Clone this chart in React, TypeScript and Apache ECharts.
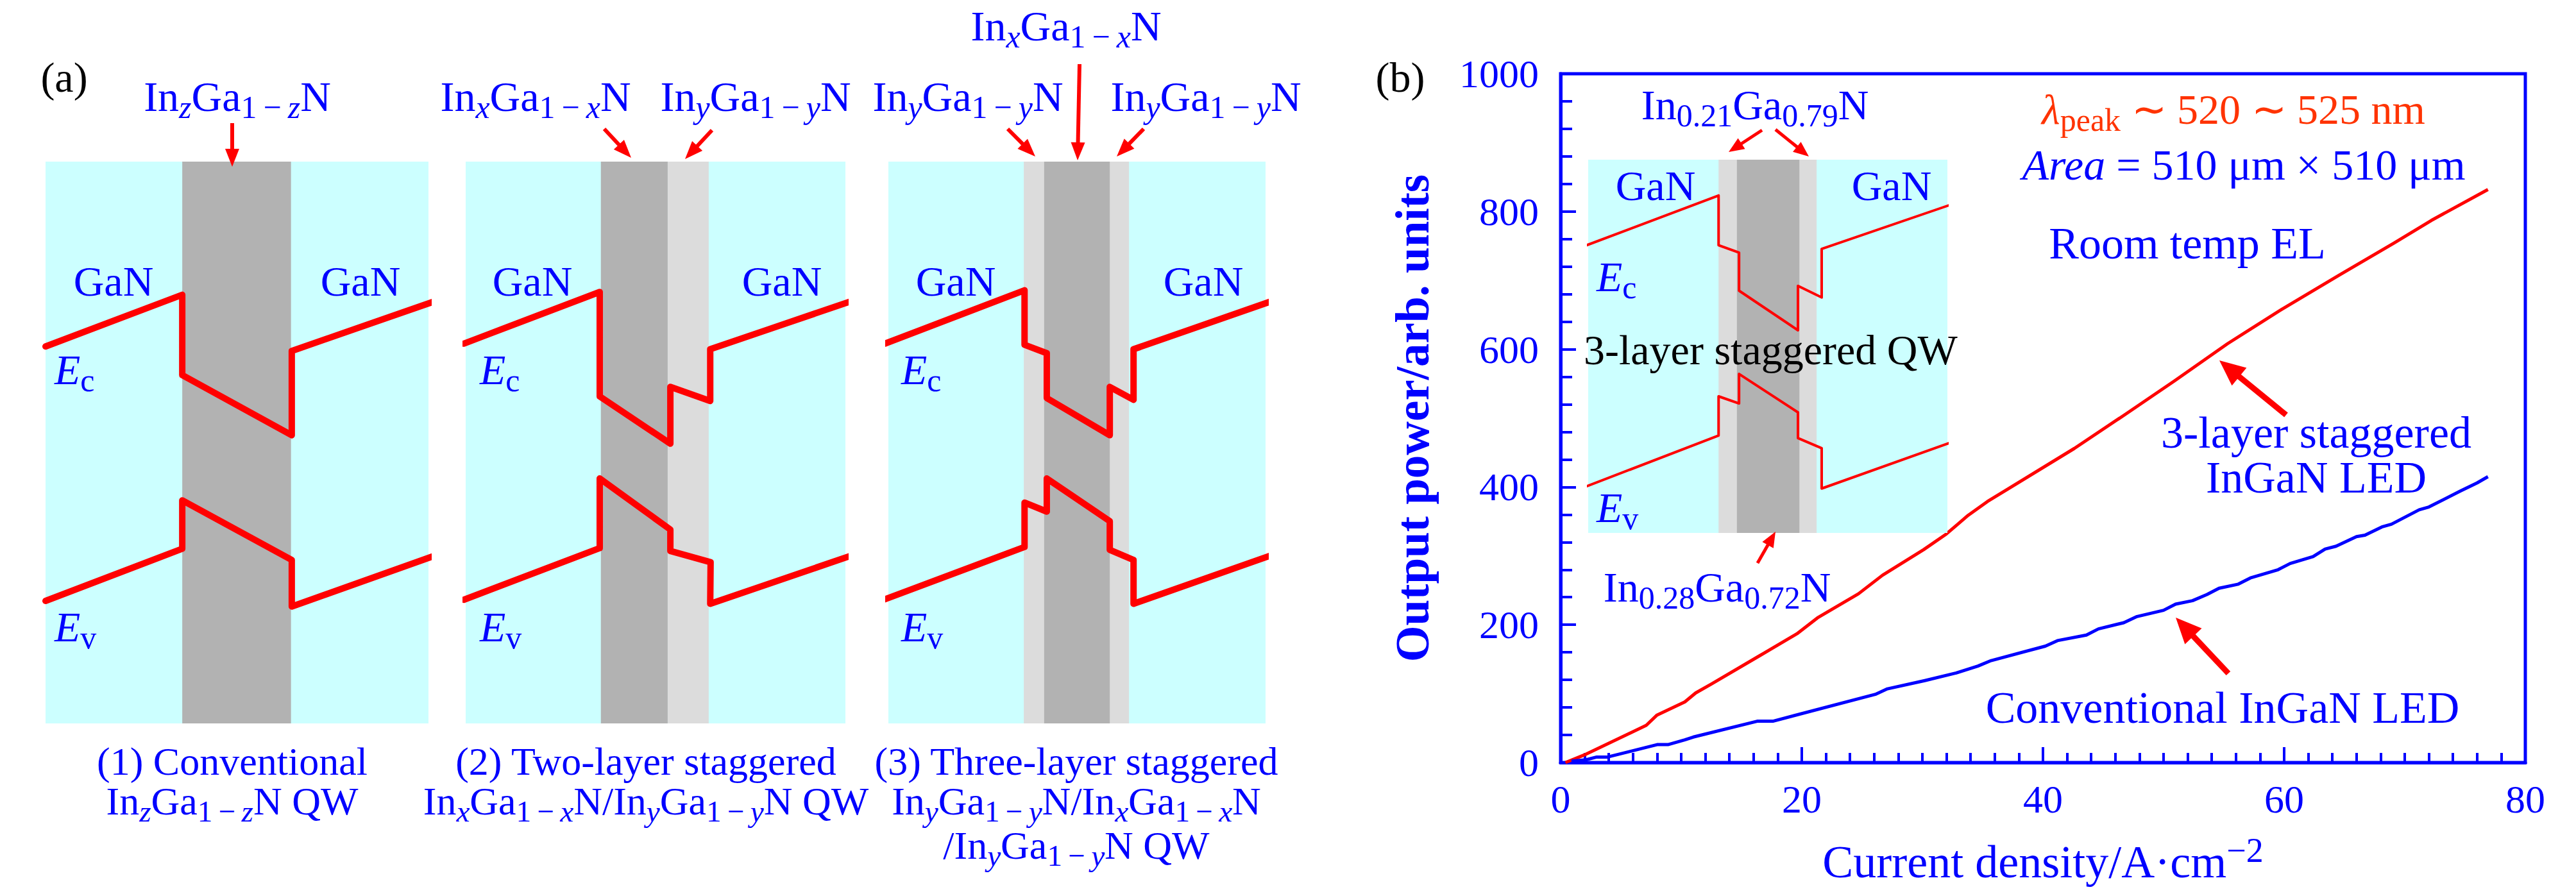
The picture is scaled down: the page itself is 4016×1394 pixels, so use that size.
import React, { useEffect, useRef } from "react";
import * as echarts from "echarts";

const BLUE = "#0000FF";
const RED = "#FF0000";
const ORANGE = "#FF3300";
const BLACK = "#000000";
const LAYER_COLORS = ["#CCFFFF", "#DCDCDC", "#B2B2B2"];
const FONT = "'Liberation Serif', 'Times New Roman', serif";
const F = 66;

// ---- Panel (b): output power vs current density ----
const staggeredJ = [0.4, 2.1, 7.1, 8.0, 10.3, 11.2, 12.5, 16.5, 19.6, 21.3, 24.7, 26.7, 30.1, 32.0, 33.8, 35.4, 42.6, 46.7, 50.9, 55.3, 59.8, 64.6, 69.1, 72.2, 76.9];
const staggeredP = [0, 12, 54, 69, 88, 101, 114, 155, 187, 210, 245, 272, 309, 332, 359, 379, 456, 504, 554, 608, 658, 708, 754, 787, 832];
const conventionalJ = [0.9, 2.1, 3.0, 3.9, 8.0, 8.9, 10.3, 11.0, 16.3, 17.6, 26.1, 27.1, 30.2, 32.8, 34.6, 35.7, 40.2, 41.2, 43.6, 44.6, 46.7, 47.8, 50.0, 51.0, 52.4, 53.6, 54.6, 56.2, 57.2, 59.5, 60.5, 62.4, 63.4, 64.3, 66.0, 66.7, 68.1, 68.9, 71.2, 72.0, 74.6, 76.0, 76.9];
const conventionalP = [2, 4, 8, 8, 26, 26, 33, 37, 60, 60, 99, 107, 119, 130, 140, 148, 169, 177, 185, 194, 203, 212, 221, 230, 235, 244, 253, 259, 268, 280, 289, 299, 310, 314, 328, 330, 342, 346, 367, 371, 394, 406, 415];

// ---- Band diagrams (schematic, % of panel width / height) ----
// layers: [x0, x1, kind] kind 0 = GaN, 1 = In_y (light), 2 = In_x/In_z (dark)
const convLayers = [[0, 100, 0], [35.7, 64.1, 2]];
const convEc = [[0, 67.1], [35.7, 76.3], [35.7, 62.0], [64.3, 51.3], [64.3, 66.3], [101, 75.0]];
const convEv = [[0, 21.8], [35.7, 31.1], [35.7, 39.7], [64.3, 29.1], [64.3, 20.8], [101, 29.7]];

const twoLayers = [[0, 100, 0], [35.6, 53.2, 2], [53.2, 64.0, 1]];
const twoEc = [[-0.5, 67.6], [35.3, 76.8], [35.3, 58.2], [53.9, 49.8], [53.9, 59.9], [64.4, 57.4], [64.4, 66.6], [101.7, 75.2]];
const twoEv = [[-0.5, 22.0], [35.3, 31.2], [35.3, 43.6], [53.9, 34.5], [53.9, 30.7], [64.5, 28.7], [64.4, 21.3], [101.7, 29.9]];

const threeLayers = [[0, 100, 0], [35.9, 63.8, 1], [41.3, 58.7, 2]];
const threeEc = [[-0.9, 67.6], [36.1, 77.1], [36.1, 67.4], [42.0, 65.9], [42.0, 57.9], [58.7, 51.3], [58.7, 59.9], [65.0, 57.6], [65.0, 66.6], [102.2, 75.3]];
const threeEv = [[-0.9, 22.1], [36.1, 31.4], [36.1, 39.3], [42.0, 37.7], [42.0, 43.6], [58.7, 36.0], [58.7, 30.9], [65.0, 29.1], [65.0, 21.3], [101.4, 29.9]];

const insetLayers = [[0, 100, 0], [36.3, 63.6, 1], [41.4, 58.8, 2]];
const insetEc = [[-0.4, 77.1], [36.3, 90.4], [36.3, 77.1], [42.0, 75.1], [42.0, 64.9], [58.4, 54.3], [58.4, 66.2], [65.0, 63.1], [65.0, 76.1], [102, 88.3]];
const insetEv = [[-0.4, 12.5], [36.3, 26.1], [36.3, 36.6], [42.0, 34.7], [42.0, 42.6], [58.4, 32.3], [58.4, 25.4], [65.0, 22.7], [65.0, 11.9], [100.9, 24.2]];

function rich(color: string, size = F, axis = false, lh?: number) {
  const s = Math.round(size * 0.75);
  const p = Math.round(size * 0.5);
  const c: any = axis ? { color } : { fill: color };
  const base: any = { fontFamily: FONT, ...c };
  if (lh) base.lineHeight = lh;
  return {
    r: { ...base, fontSize: size },
    i: { ...base, fontSize: size, fontStyle: "italic" },
    s: { ...base, fontSize: s, padding: [p, 0, 0, 0] },
    si: { ...base, fontSize: s, fontStyle: "italic", padding: [p, 0, 0, 0] },
    u: { ...base, fontSize: s, padding: [0, 0, p, 0] },
  };
}

function label(text: string, x: number, y: number, color = BLUE, align = "center", size = F, lh?: number) {
  const style: any = { text, fontFamily: FONT, fontSize: size, fill: color, align, verticalAlign: "middle", rich: rich(color, size, false, lh) };
  if (lh) style.lineHeight = lh;
  return { type: "text", x, y, z: 100, silent: true, style };
}

function arrow(x1: number, y1: number, x2: number, y2: number, w: number, hl: number, hw: number) {
  const dx = x2 - x1, dy = y2 - y1;
  const L = Math.hypot(dx, dy);
  const ux = dx / L, uy = dy / L;
  const bx = x2 - ux * hl, by = y2 - uy * hl;
  const px = -uy, py = ux;
  return [
    { type: "line", z: 100, silent: true, shape: { x1, y1, x2: bx + ux * 3, y2: by + uy * 3 }, style: { stroke: RED, lineWidth: w } },
    {
      type: "polygon", z: 100, silent: true,
      shape: { points: [[x2, y2], [bx + (px * hw) / 2, by + (py * hw) / 2], [bx - (px * hw) / 2, by - (py * hw) / 2]] },
      style: { fill: RED },
    },
  ];
}

const M = "\u2009−\u2009";
const inZ = `{r|In}{si|z}{r|Ga}{s|1${M}}{si|z}{r|N}`;
const inX = `{r|In}{si|x}{r|Ga}{s|1${M}}{si|x}{r|N}`;
const inY = `{r|In}{si|y}{r|Ga}{s|1${M}}{si|y}{r|N}`;
const EC = "{i|E}{s|c}";
const EV = "{i|E}{s|v}";

function App() {
  const ref = useRef<HTMLDivElement>(null);
  useEffect(() => {
    document.body.style.margin = "0";
    const chart = echarts.init(ref.current!, null, { renderer: "svg" });

    const diagGrids = [
      { left: 71, top: 252, width: 597, height: 876 },
      { left: 726, top: 252, width: 592, height: 876 },
      { left: 1385, top: 252, width: 588, height: 876 },
      { left: 2476, top: 249, width: 560, height: 582 },
    ];
    const diagrams = [
      { layers: convLayers, ec: convEc, ev: convEv, w: 10, z: 1 },
      { layers: twoLayers, ec: twoEc, ev: twoEv, w: 10, z: 1 },
      { layers: threeLayers, ec: threeEc, ev: threeEv, w: 10, z: 1 },
      { layers: insetLayers, ec: insetEc, ev: insetEv, w: 4, z: 6 },
    ];

    const grid: any[] = [
      { left: 2433, top: 115, width: 1504, height: 1074, show: true, borderColor: BLUE, borderWidth: 5, backgroundColor: "transparent" },
      ...diagGrids,
    ];

    const xAxis: any[] = [
      {
        gridIndex: 0, type: "value", min: 0, max: 80, interval: 20,
        name: "Current density/A·cm{u|−2}", nameLocation: "middle", nameGap: 110,
        nameTextStyle: { fontFamily: FONT, fontSize: 72, color: BLUE, rich: rich(BLUE, 72, true) },
        axisLine: { lineStyle: { color: BLUE, width: 5 } },
        axisTick: { inside: true, length: 24, lineStyle: { color: BLUE, width: 4 } },
        minorTick: { show: true, splitNumber: 10, length: 15, lineStyle: { color: BLUE, width: 4 } },
        axisLabel: { color: BLUE, fontFamily: FONT, fontSize: 62, margin: 26, formatter: (v: number) => String(v) },
        splitLine: { show: false },
      },
      ...diagGrids.map((_, i) => ({ gridIndex: i + 1, type: "value", min: 0, max: 100, show: false })),
    ];
    const yAxis: any[] = [
      {
        gridIndex: 0, type: "value", min: 0, max: 1000, interval: 200,
        name: "Output power/arb. units", nameLocation: "middle", nameGap: 194,
        nameTextStyle: { fontFamily: FONT, fontSize: 73, fontWeight: "bold", color: BLUE },
        axisLine: { lineStyle: { color: BLUE, width: 5 } },
        axisTick: { inside: true, length: 24, lineStyle: { color: BLUE, width: 4 } },
        minorTick: { show: true, splitNumber: 5, length: 18, lineStyle: { color: BLUE, width: 4 } },
        axisLabel: { color: BLUE, fontFamily: FONT, fontSize: 62, margin: 34, formatter: (v: number) => String(v) },
        splitLine: { show: false },
      },
      ...diagGrids.map((_, i) => ({ gridIndex: i + 1, type: "value", min: 0, max: 100, show: false })),
    ];

    const series: any[] = [
      {
        type: "line", name: "3-layer staggered InGaN LED", xAxisIndex: 0, yAxisIndex: 0, z: 2, silent: true,
        data: staggeredJ.map((j, k) => [j, staggeredP[k]]), showSymbol: false,
        lineStyle: { color: RED, width: 5, join: "round" },
      },
      {
        type: "line", name: "Conventional InGaN LED", xAxisIndex: 0, yAxisIndex: 0, z: 2, silent: true,
        data: conventionalJ.map((j, k) => [j, conventionalP[k]]), showSymbol: false,
        lineStyle: { color: BLUE, width: 5, join: "round" },
      },
    ];
    diagrams.forEach((d, i) => {
      const gi = i + 1;
      series.push({
        type: "custom", xAxisIndex: gi, yAxisIndex: gi, z: d.z, silent: true,
        data: d.layers,
        renderItem: (_p: any, api: any) => {
          const p0 = api.coord([api.value(0), 100]);
          const p1 = api.coord([api.value(1), 0]);
          return {
            type: "rect",
            shape: { x: p0[0], y: p0[1], width: p1[0] - p0[0], height: p1[1] - p0[1] },
            style: { fill: LAYER_COLORS[api.value(2)] },
          };
        },
      });
      [d.ec, d.ev].forEach((pts) => {
        series.push({
          type: "line", xAxisIndex: gi, yAxisIndex: gi, z: d.z + 1, silent: true, clip: false,
          data: pts, showSymbol: false,
          lineStyle: { color: RED, width: d.w, cap: "round", join: "round" },
        });
      });
    });

    const CAP = 62;
    const graphic: any[] = [
      label("(a)", 100, 120, BLACK),
      label(inZ, 370, 150),
      label(inX, 835, 150),
      label(inY, 1178, 150),
      label(inX, 1662, 40),
      label(inY, 1509, 150),
      label(inY, 1880, 150),
      label("GaN", 177, 438), label("GaN", 562, 438),
      label("GaN", 830, 438), label("GaN", 1219, 438),
      label("GaN", 1490, 438), label("GaN", 1876, 438),
      label(EC, 85, 576, BLUE, "left"), label(EC, 748, 576, BLUE, "left"), label(EC, 1405, 576, BLUE, "left"),
      label(EV, 85, 977, BLUE, "left"), label(EV, 748, 977, BLUE, "left"), label(EV, 1405, 977, BLUE, "left"),
      label(`(1) Conventional\n{r|In}{si|z}{r|Ga}{s|1${M}}{si|z}{r|N QW}`, 362, 1218, BLUE, "center", CAP, 62),
      label(`(2) Two-layer staggered\n{r|In}{si|x}{r|Ga}{s|1${M}}{si|x}{r|N/In}{si|y}{r|Ga}{s|1${M}}{si|y}{r|N QW}`, 1007, 1218, BLUE, "center", CAP, 62),
      label(`(3) Three-layer staggered\n{r|In}{si|y}{r|Ga}{s|1${M}}{si|y}{r|N/In}{si|x}{r|Ga}{s|1${M}}{si|x}{r|N}`, 1678, 1218, BLUE, "center", CAP, 62),
      label(`{r|/In}{si|y}{r|Ga}{s|1${M}}{si|y}{r|N QW}`, 1678, 1318, BLUE, "center", CAP),
      // panel (b)
      label("(b)", 2183, 120, BLACK),
      label("{r|In}{s|0.21}{r|Ga}{s|0.79}{r|N}", 2736, 163),
      label("GaN", 2581, 289), label("GaN", 2949, 289),
      label(EC, 2489, 431, BLUE, "left"),
      label(EV, 2489, 791, BLUE, "left"),
      label("3-layer staggered QW", 2469, 545, BLACK, "left"),
      label("{r|In}{s|0.28}{r|Ga}{s|0.72}{r|N}", 2677, 915),
      label("{i|λ}{s|peak}{r| ∼ 520 ∼ 525 nm}", 3482, 170, ORANGE),
      label("{i|Area}{r| = 510 μm × 510 μm}", 3498, 257, BLUE, "center", 68),
      label("Room temp EL", 3410, 379, BLUE, "center", 70),
      label("3-layer staggered\nInGaN LED", 3611, 709, BLUE, "center", 70, 70),
      label("Conventional InGaN LED", 3465, 1103, BLUE, "center", 70),
      ...arrow(362, 192, 362, 260, 6, 28, 22),
      ...arrow(942, 201, 984, 246, 6, 28, 22),
      ...arrow(1110, 203, 1068, 248, 6, 28, 22),
      ...arrow(1683, 100, 1680, 250, 6, 28, 22),
      ...arrow(1571, 201, 1614, 244, 6, 28, 22),
      ...arrow(1783, 201, 1741, 244, 6, 28, 22),
      ...arrow(2747, 203, 2695, 237, 5, 24, 20),
      ...arrow(2768, 202, 2820, 244, 5, 24, 20),
      ...arrow(2740, 878, 2768, 829, 5, 24, 20),
      ...arrow(3564, 647, 3460, 562, 9, 40, 36),
      ...arrow(3474, 1050, 3392, 963, 9, 40, 36),
    ];

    chart.setOption({ animation: false, grid, xAxis, yAxis, series, graphic });
    return () => chart.dispose();
  }, []);
  return <div ref={ref} style={{ width: 4016, height: 1394 }} />;
}

export default App;
